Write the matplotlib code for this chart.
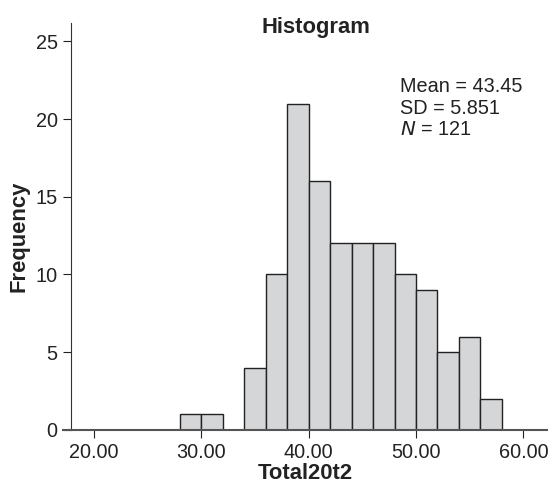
import matplotlib.pyplot as plt
import numpy as np

plt.rcParams['font.family'] = ['Liberation Sans', 'DejaVu Sans']

# histogram bins (left edges) and counts
bin_edges = [28, 30, 32, 34, 36, 38, 40, 42, 44, 46, 48, 50, 52, 54, 56, 58]
counts = [1, 1, 0, 4, 10, 21, 16, 12, 12, 12, 10, 9, 5, 6, 2]
x_ticks = [20, 30, 40, 50, 60]
x_tick_labels = ["20.00", "30.00", "40.00", "50.00", "60.00"]
y_ticks = [0, 5, 10, 15, 20, 25]
stats = ["Mean = 43.45", "SD = 5.851", "$N$ = 121"]

fig = plt.figure(figsize=(5.53, 4.83), dpi=100)
ax = fig.add_axes([0.114, 0.11, 0.875, 0.843])

lefts = np.array(bin_edges[:-1])
widths = np.diff(bin_edges)
for l, w, c in zip(lefts, widths, counts):
    if c > 0:
        ax.bar(l, c, width=w, align='edge', color='#d5d6d8',
               edgecolor='#222222', linewidth=1.0)

ax.set_xlim(17.1, 62.2)
ax.set_ylim(0, 26.2)
ax.spines['left'].set_position(('data', 17.83))
ax.spines['top'].set_visible(False)
ax.spines['right'].set_visible(False)
ax.spines['left'].set_color('#333333')
ax.spines['bottom'].set_color('#555555')
ax.spines['bottom'].set_linewidth(1.5)

ax.set_xticks(x_ticks)
ax.set_xticklabels(x_tick_labels)
ax.set_yticks(y_ticks)
ax.tick_params(axis='both', labelsize=14.3, colors='#222222', length=6, width=0.8)

# title sits inside the top of the plot area
ax.text(40.7, 25.9, "Histogram", fontsize=15.8, fontweight='bold',
        ha='center', va='center', color='#222222')
ax.set_xlabel("Total20t2", fontsize=15.8, fontweight='bold', labelpad=1,
              color='#222222')
ax.set_ylabel("Frequency", fontsize=15.8, fontweight='bold', color='#222222')
ax.yaxis.set_label_coords(-0.070, 0.476)

for i, s in enumerate(stats):
    ax.text(48.55, 22.07 - i * 1.38, s, fontsize=14.3, color='#222222', va='center')

fig.savefig("out.png", dpi=100)
